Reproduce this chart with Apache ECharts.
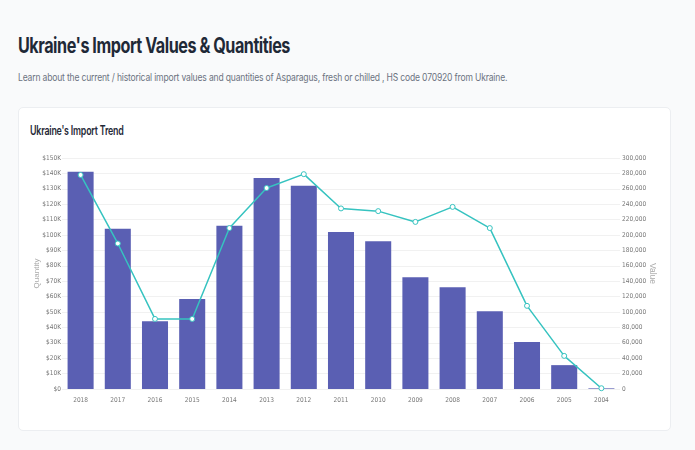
<!DOCTYPE html>
<html>
<head>
<meta charset="utf-8">
<script src="https://cdn.jsdelivr.net/npm/echarts@6/dist/echarts.min.js"></script>
<style>
  html, body { margin: 0; padding: 0; background: #f9fafb; width: 695px; height: 450px; overflow: hidden; font-family: Inter, "Noto Sans", sans-serif; }
  #title { position: absolute; left: 18px; top: 33px; font-size: 21px; font-weight: 700; color: #1f2937; letter-spacing: -0.6px; transform: scaleX(0.77); transform-origin: left center; white-space: nowrap; }
  #sub { position: absolute; left: 18px; top: 71px; font-size: 10.5px; color: #6b7280; letter-spacing: -0.2px; transform: scaleX(0.813); transform-origin: left center; white-space: nowrap; }
  #card { position: absolute; left: 18px; top: 107px; width: 653px; height: 324px; background: #fff; border: 1px solid #eceef1; border-radius: 5px; box-sizing: border-box; }
  #cardTitle { position: absolute; left: 30px; top: 123px; font-size: 12.5px; font-weight: 600; color: #1f2937; letter-spacing: -0.3px; transform: scaleX(0.71); transform-origin: left center; white-space: nowrap; }
  #chart { position: absolute; left: 0; top: 0; width: 695px; height: 450px; }
</style>
</head>
<body>
<div id="title">Ukraine's Import Values &amp; Quantities</div>
<div id="sub">Learn about the current / historical import values and quantities of Asparagus, fresh or chilled , HS code 070920 from Ukraine.</div>
<div id="card"></div>
<div id="cardTitle">Ukraine's Import Trend</div>
<div id="chart"></div>
<script>
const years = ['2018','2017','2016','2015','2014','2013','2012','2011','2010','2009','2008','2007','2006','2005','2004'];
const quantityValues = [141000, 104000, 44000, 58500, 106000, 137000, 132000, 102000, 96000, 72500, 66000, 50500, 30500, 15500, 400];
const valueValues = [278000, 189000, 91000, 91000, 209000, 261000, 279000, 234500, 231000, 217000, 236500, 209000, 108000, 43000, 1000];

const chart = echarts.init(document.getElementById('chart'), null, { renderer: 'canvas' });
const tickFont = { fontSize: 6.5, color: '#777', fontFamily: '"Liberation Sans Narrow", "DejaVu Sans Condensed", sans-serif' };
chart.setOption({
  animation: false,
  grid: { left: 62, right: 75, top: 158, bottom: 61, containLabel: false },
  xAxis: {
    type: 'category',
    data: years,
    axisLine: { show: false },
    axisTick: { show: false },
    axisLabel: Object.assign({ margin: 8 }, tickFont)
  },
  yAxis: [
    {
      type: 'value', min: 0, max: 150000, interval: 10000,
      name: 'Quantity', nameLocation: 'middle', nameGap: 21, nameMoveOverlap: false,
      nameTextStyle: { fontSize: 8, color: '#aaa' },
      axisLine: { show: false }, axisTick: { show: false },
      axisLabel: Object.assign({ margin: 1, formatter: v => '$' + (v / 1000) + (v ? 'K' : '') }, tickFont),
      splitLine: { lineStyle: { color: '#f1f1f1' } }
    },
    {
      type: 'value', min: 0, max: 300000, interval: 20000,
      name: 'Value', nameLocation: 'middle', nameGap: 28, nameRotate: -90, nameMoveOverlap: false,
      nameTextStyle: { fontSize: 8.5, color: '#aaa' },
      axisLine: { show: false }, axisTick: { show: false },
      axisLabel: Object.assign({ margin: 2, formatter: v => v.toLocaleString('en-US') }, tickFont),
      splitLine: { show: false }
    }
  ],
  series: [
    {
      type: 'bar', yAxisIndex: 0, data: quantityValues, barWidth: '70%',
      itemStyle: { color: '#5a5fb3' }
    },
    {
      type: 'line', yAxisIndex: 1, data: valueValues,
      symbol: 'circle', symbolSize: 5,
      lineStyle: { color: '#36c3c0', width: 1.5 },
      itemStyle: { color: '#ffffff', borderColor: '#36c3c0', borderWidth: 1 }
    }
  ]
});
</script>
</body>
</html>
